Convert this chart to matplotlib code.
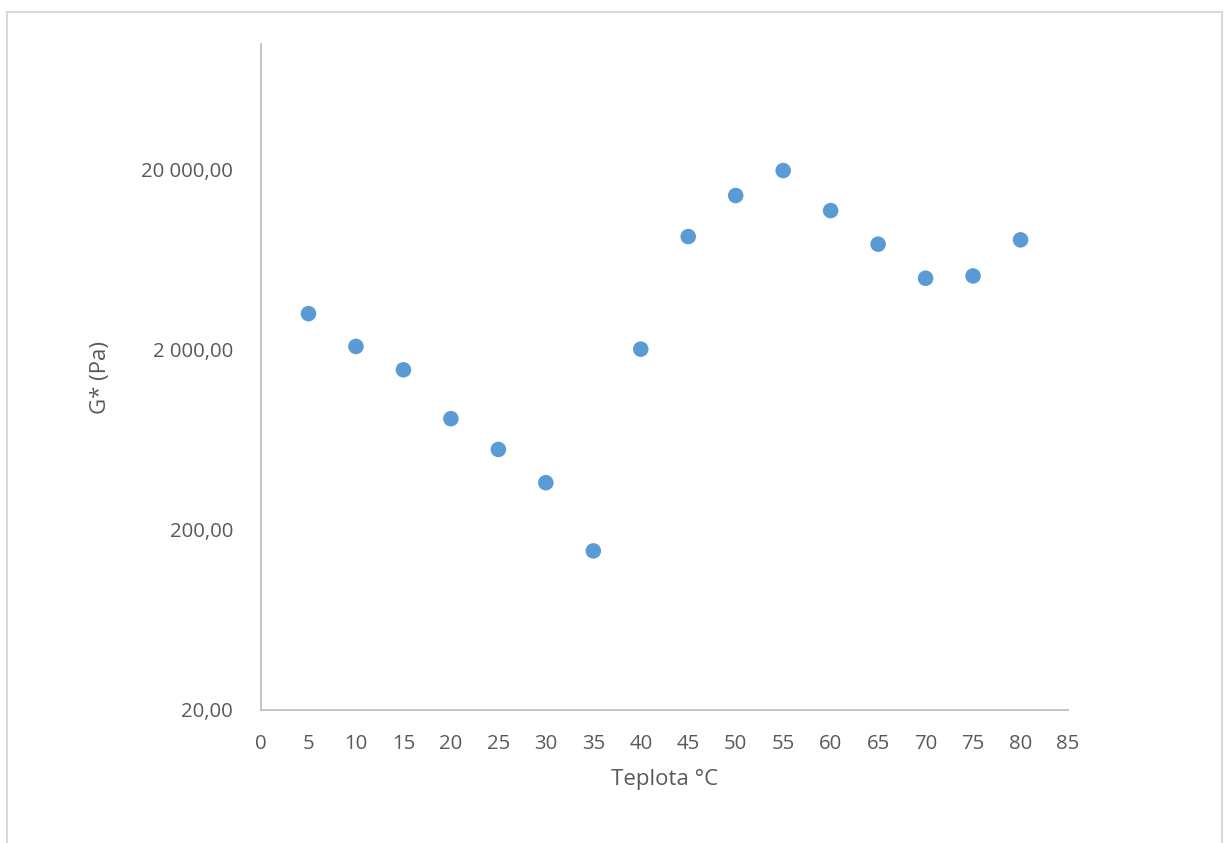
import matplotlib
matplotlib.use("Agg")
import matplotlib.pyplot as plt
from matplotlib.patches import Rectangle
from matplotlib.ticker import FixedLocator, FuncFormatter

# Complex shear modulus vs. temperature
temperature = [5, 10, 15, 20, 25, 30, 35, 40, 45, 50, 55, 60, 65, 70, 75, 80]
g_star = [3180, 2090, 1550, 830, 560, 366, 153, 2020, 8520, 14400, 19820,
          11880, 7730, 5000, 5150, 8170]

x_ticks = list(range(0, 90, 5))
y_ticks = [20, 200, 2000, 20000]

x_label = "Teplota °C"
y_label = "G* (Pa)"

plt.rcParams['font.family'] = ['Open Sans', 'DejaVu Sans']

W, H = 1230, 843
fig = plt.figure(figsize=(W / 100, H / 100), dpi=100)
fig.patch.set_facecolor("white")

# outer chart-area frame
frame = Rectangle((7 / W, -0.05), (1222 - 7) / W, 1 - 12 / H + 0.05,
                  transform=fig.transFigure, fill=False,
                  edgecolor="#d9d9d9", linewidth=1.5, clip_on=False)
fig.patches.append(frame)

ax = fig.add_axes([261 / W, 1 - 710 / H, (1068 - 261) / W, (710 - 44) / H])
ax.scatter(temperature, g_star, s=125, color="#5B9BD5", edgecolors="none",
           zorder=3)

ax.set_yscale("log")
ax.set_ylim(20, 100000)
ax.set_xlim(0, 85)

ax.xaxis.set_major_locator(FixedLocator(x_ticks))
ax.yaxis.set_major_locator(FixedLocator(y_ticks))
ax.yaxis.set_minor_locator(FixedLocator([]))


def fmt_y(v, pos):
    s = f"{v:,.2f}"
    return s.replace(",", " ").replace(".", ",")


ax.yaxis.set_major_formatter(FuncFormatter(fmt_y))

for side in ("top", "right"):
    ax.spines[side].set_visible(False)
for side in ("left", "bottom"):
    ax.spines[side].set_color("#bfbfbf")
    ax.spines[side].set_linewidth(1.3)

ax.tick_params(axis="both", which="both", length=0, labelsize=14.7,
               labelcolor="#595959")
ax.tick_params(axis="x", pad=17)
ax.tick_params(axis="y", pad=20)

ax.set_xlabel(x_label, fontsize=16, color="#595959", labelpad=11)
ax.set_ylabel(y_label, fontsize=16, color="#595959", labelpad=22)

fig.savefig("out.png", dpi=100)
